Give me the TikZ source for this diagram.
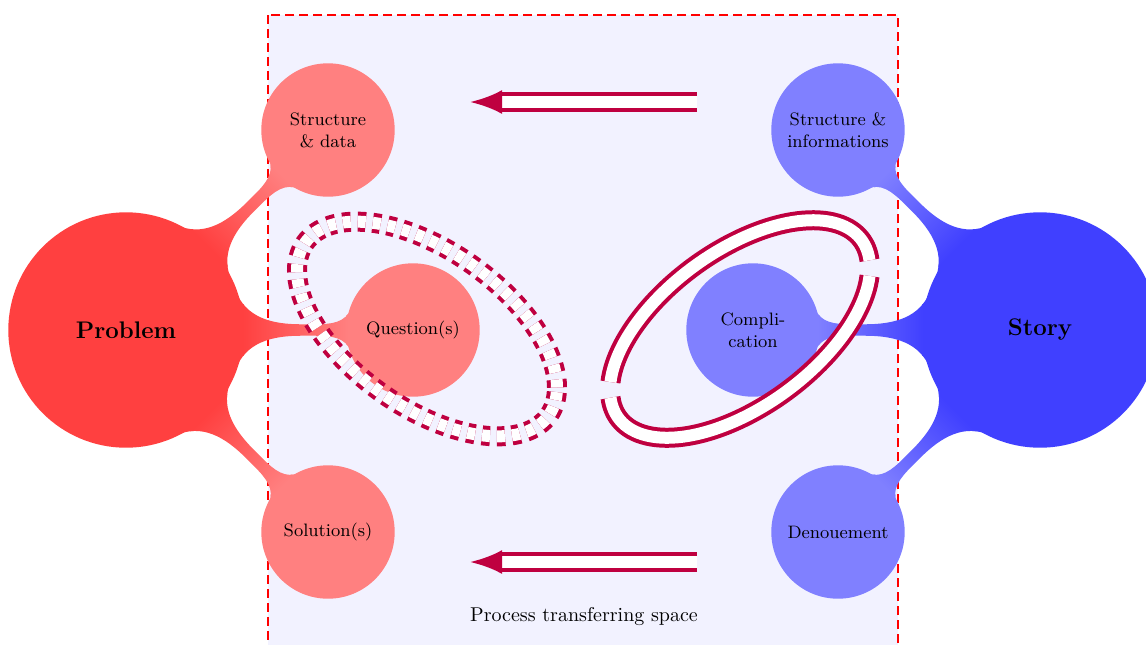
\documentclass[tikz,border=0pt]{standalone}
\usepackage{xcolor}
\usetikzlibrary{mindmap, arrows.meta}

\tikzset{
    rootconcept/.style={concept, minimum size=116.5pt, text width=100pt, font=\large\bfseries},
    leafconcept/.style={concept, minimum size=65.5pt, text width=51pt, font=\small},
    ring/.style={purple, line width=2pt, double=white, double distance=6pt},
    backarrow/.style={ring, -{Latex[length=16pt,width=12pt]}}
}

\begin{document}
\begin{tikzpicture}[x=0.5pt, y=-0.5pt]
    \useasboundingbox (0,0) rectangle (1146,644);
    \draw[red, line width=1.4pt, dash pattern=on 4.5pt off 2.5pt, fill=blue!5] (268,15) rectangle (898,700);

    \begin{scope}[mindmap, text=black]
        \node[rootconcept, concept color=red!75] (problem) at (126,330) {Problem};
        \node[leafconcept, concept color=red!50] (sdata) at (328,130) {Structure \& data};
        \node[leafconcept, concept color=red!50] (question) at (413,330) {Question(s)};
        \node[leafconcept, concept color=red!50] (solution) at (328,532) {Solution(s)};

        \node[rootconcept, concept color=blue!75] (story) at (1040,330) {Story};
        \node[leafconcept, concept color=blue!50] (sinfo) at (838,130) {Structure \& informations};
        \node[leafconcept, concept color=blue!50] (complication) at (753,330) {Compli\-cation};
        \node[leafconcept, concept color=blue!50] (denouement) at (838,532) {Denouement};

        \path (problem) to[circle connection bar switch color=from (red!75) to (red!50)] (sdata);
        \path (problem) to[circle connection bar switch color=from (red!75) to (red!50)] (question);
        \path (problem) to[circle connection bar switch color=from (red!75) to (red!50)] (solution);
        \path (story) to[circle connection bar switch color=from (blue!75) to (blue!50)] (sinfo);
        \path (story) to[circle connection bar switch color=from (blue!75) to (blue!50)] (complication);
        \path (story) to[circle connection bar switch color=from (blue!75) to (blue!50)] (denouement);
    \end{scope}

    \begin{scope}[shift={(427,329)}, yslant=-0.45]
        \draw[ring, dash pattern=on 4pt off 3.5pt] (0,0) ellipse [x radius=65pt, y radius=45pt];
    \end{scope}
    \begin{scope}[shift={(740,329)}, yslant=0.47]
        \draw[ring] (5:65pt and 45pt) arc[start angle=5, end angle=175, x radius=65pt, y radius=45pt];
        \draw[ring] (185:65pt and 45pt) arc[start angle=185, end angle=355, x radius=65pt, y radius=45pt];
    \end{scope}

    \coordinate (toptail) at (697,102);
    \coordinate (tophead) at (470,102);
    \coordinate (bottail) at (697,562);
    \coordinate (bothead) at (470,562);
    \draw[backarrow] (toptail) -- (tophead);
    \draw[backarrow] (bottail) -- (bothead);

    \node (space) at (584,616) {Process transferring space};
\end{tikzpicture}
\end{document}
